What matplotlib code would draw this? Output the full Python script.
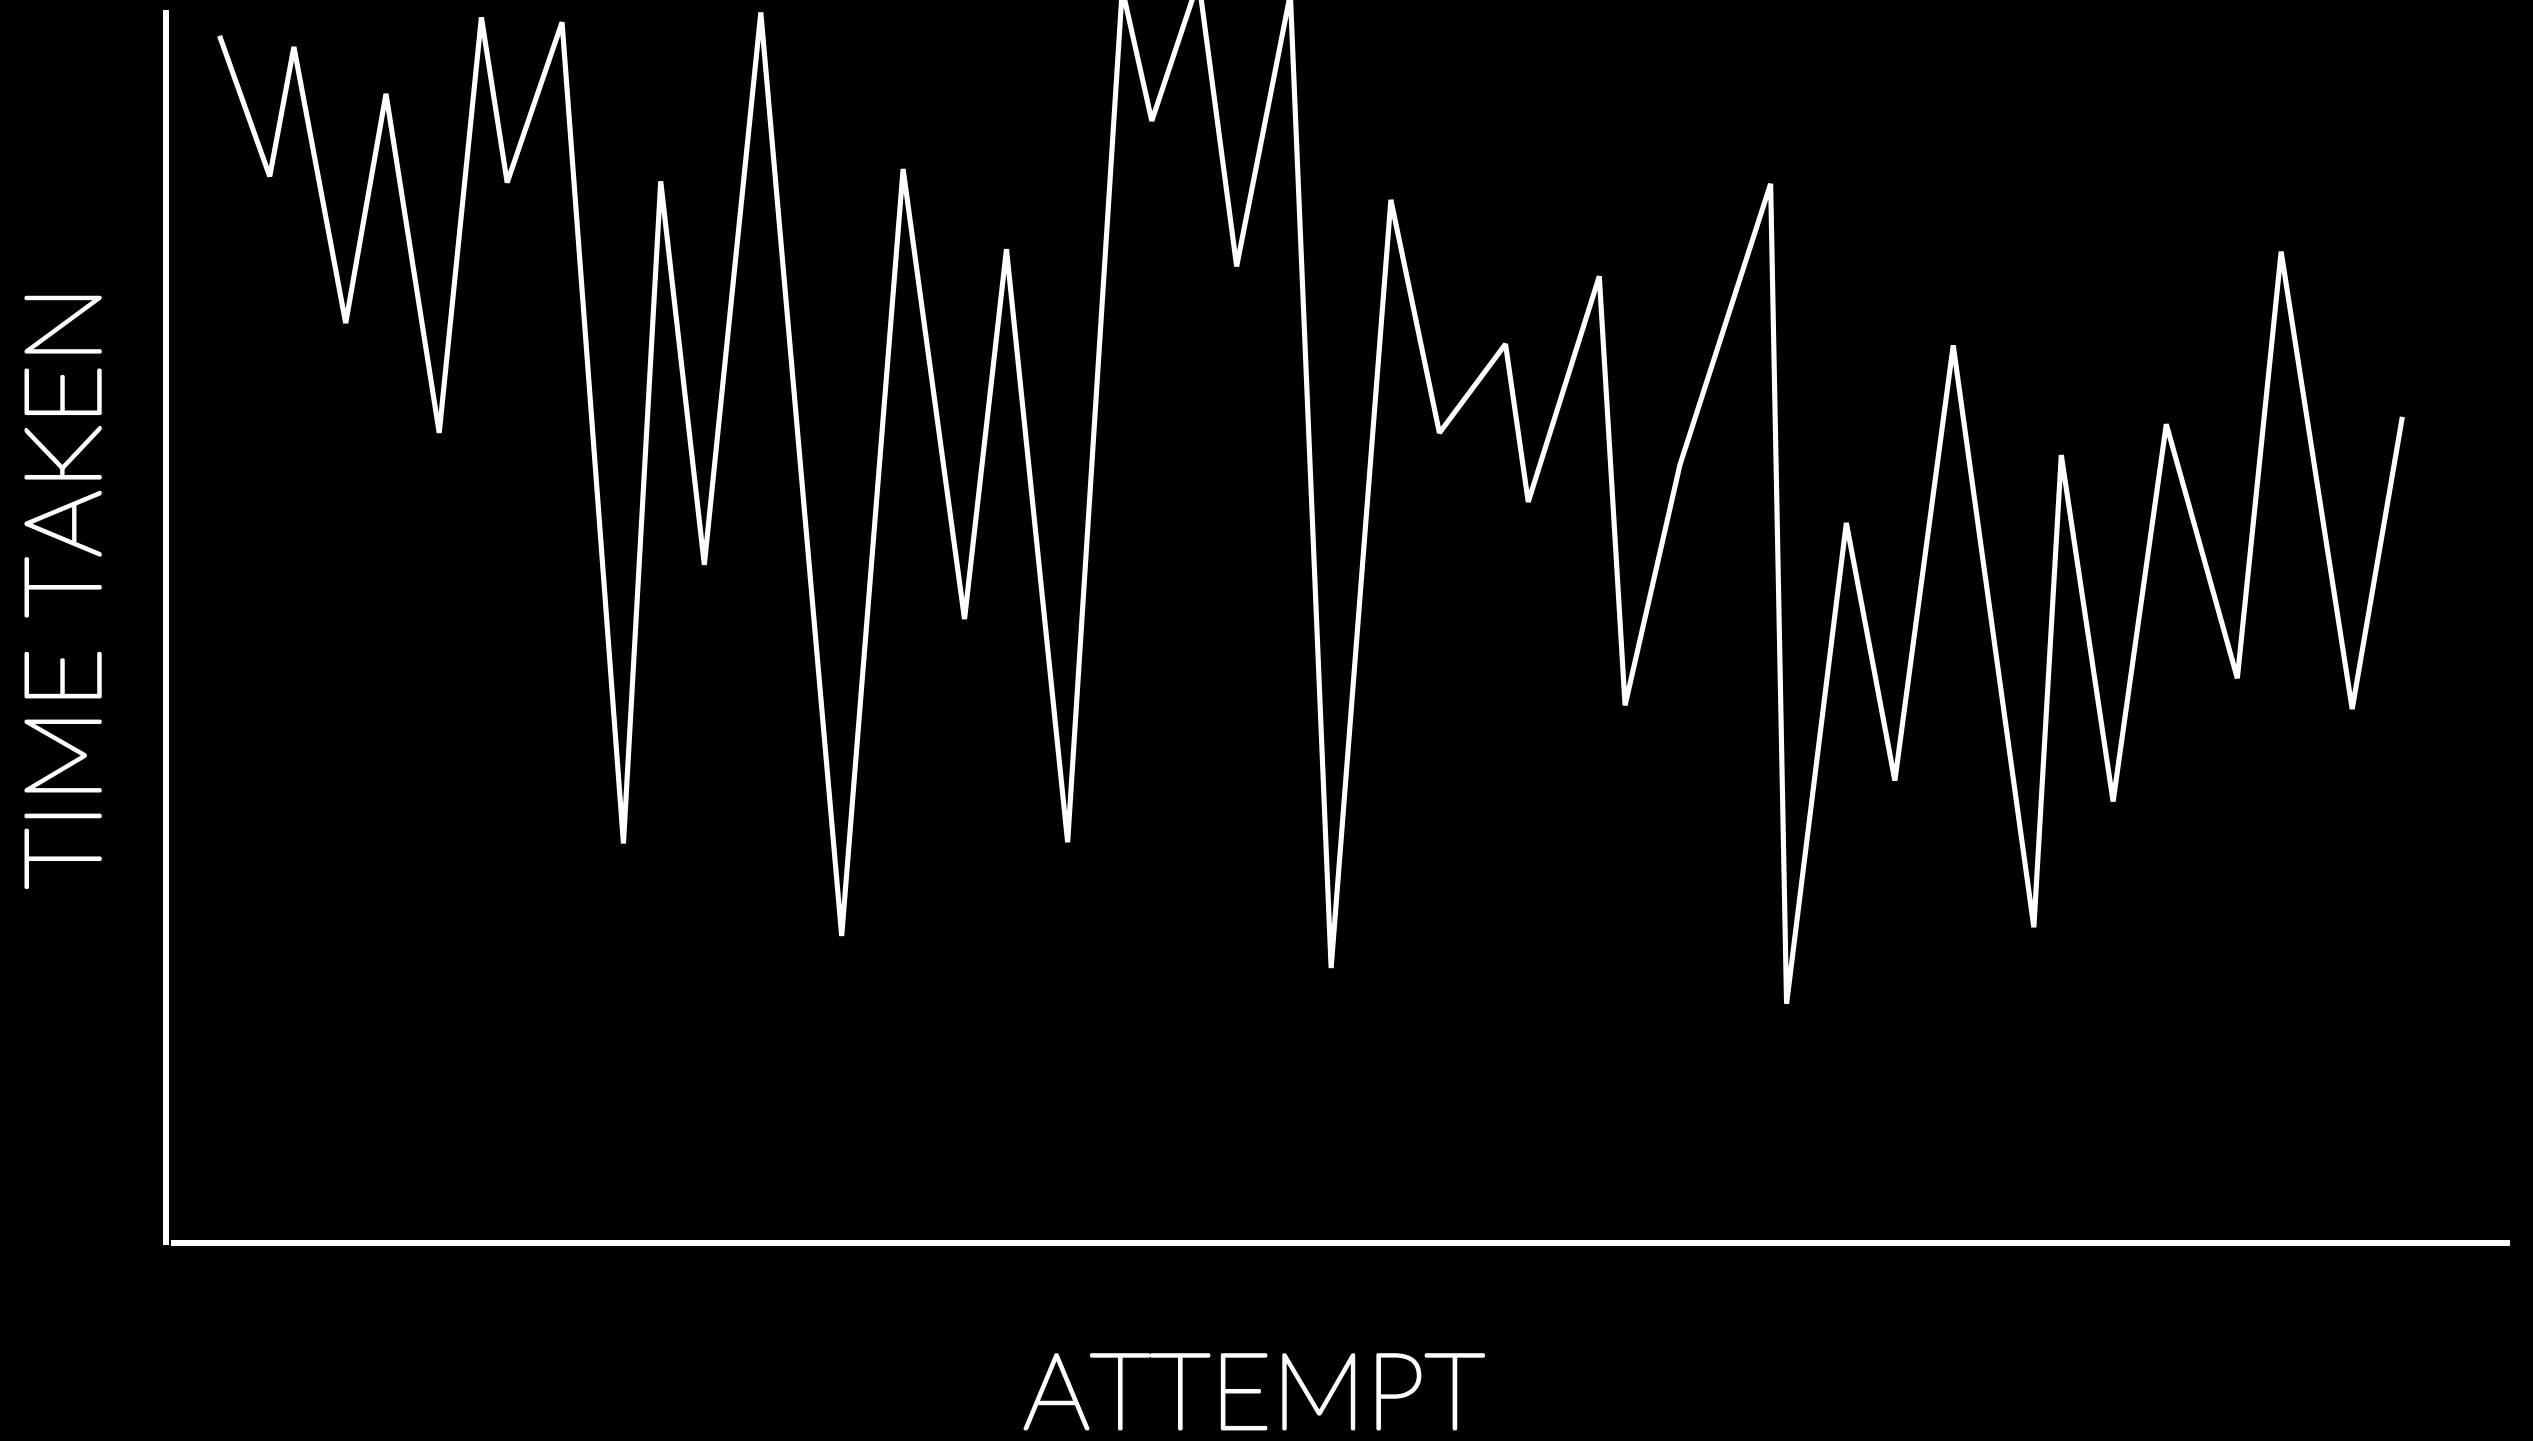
"""Time taken per attempt, white line on black."""
import matplotlib
matplotlib.use('Agg')
import matplotlib.pyplot as plt
import matplotlib.patheffects as pe

# attempt position along the x axis and time taken (arbitrary 0-100 scale)
attempt = [2.29, 4.43, 5.46, 7.67, 9.39, 11.66, 13.46, 14.56, 16.90, 19.52,
           21.11, 22.97, 25.38, 28.83, 31.45, 34.07, 35.86, 38.47, 40.80, 42.06,
           44.06, 45.68, 47.97, 49.71, 52.26, 54.33, 57.15, 58.12, 61.15, 62.25,
           64.59, 68.46, 69.14, 71.69, 73.76, 76.25, 79.69, 80.86, 83.07, 85.34,
           88.37, 90.24, 93.27, 95.41]
time_taken = [97.9, 86.5, 97.0, 74.6, 93.2, 65.7, 99.4, 86.0, 99.0, 32.4,
              86.1, 55.0, 99.8, 24.9, 87.1, 50.6, 80.6, 32.5, 101.7, 91.0,
              102.4, 79.2, 101.3, 22.3, 84.6, 65.7, 72.9, 60.1, 78.4, 43.6,
              63.1, 85.9, 19.4, 58.4, 37.5, 72.8, 25.6, 63.9, 35.8, 66.4,
              45.8, 80.4, 43.3, 67.0]

x_label = 'ATTEMPT'
y_label = 'TIME TAKEN'

fig = plt.figure(figsize=(25.33, 14.41), dpi=100, facecolor='black')
ax = fig.add_axes([0.0655, 0.1374, 0.9254, 0.8557], facecolor='black')

ax.plot(attempt, time_taken, color='white', linewidth=3.7,
        solid_joinstyle='bevel', solid_capstyle='butt', clip_on=False)

ax.set_xlim(0, 100)
ax.set_ylim(0, 100)
ax.set_xticks([])
ax.set_yticks([])

for side in ['top', 'right']:
    ax.spines[side].set_visible(False)
for side in ['left', 'bottom']:
    ax.spines[side].set_color('white')
    ax.spines[side].set_linewidth(4.3)
    ax.spines[side].set_capstyle('butt')
# small gap where the two axis lines meet, as in the original
ax.spines['bottom'].set_bounds(0.2, 100)
ax.spines['left'].set_bounds(-0.2, 100)

# thin font, thickened a little with a white stroke
font = dict(family=['Lato', 'DejaVu Sans'], fontweight='light', fontsize=76, color='white',
            path_effects=[pe.withStroke(linewidth=2.4, foreground='white')])
fig.text(0.495, 0.0085, x_label, ha='center', va='baseline', **font)
fig.text(0.0395, 0.5926, y_label, rotation=90, rotation_mode='anchor',
         ha='center', va='baseline', **font)

fig.savefig('out.png', dpi=100, facecolor='black')
